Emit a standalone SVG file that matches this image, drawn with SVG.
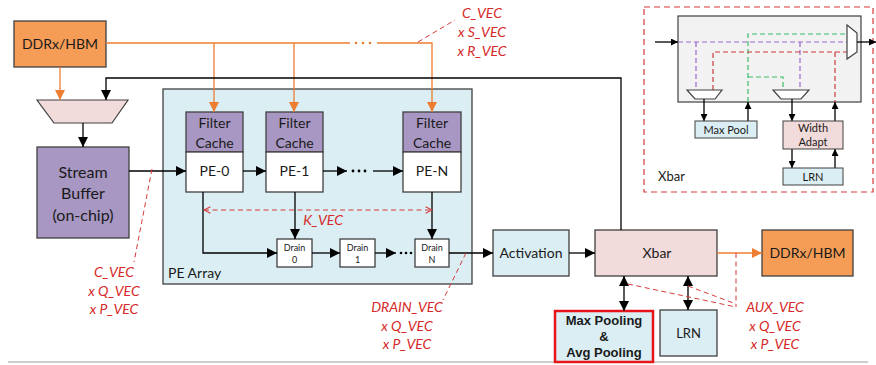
<svg xmlns="http://www.w3.org/2000/svg" width="876" height="365" viewBox="0 0 876 365">
<defs>
<marker id="ab" viewBox="0 0 10 10" refX="10" refY="5" markerWidth="10" markerHeight="10" markerUnits="userSpaceOnUse" orient="auto-start-reverse"><path d="M0,0 L10,5 L0,10 Z" fill="#000"/></marker>
<marker id="ao" viewBox="0 0 10 10" refX="10" refY="5" markerWidth="10" markerHeight="10" markerUnits="userSpaceOnUse" orient="auto-start-reverse"><path d="M0,0 L10,5 L0,10 Z" fill="#ED7D31"/></marker>
<marker id="ar" viewBox="0 0 10 10" refX="9" refY="5" markerWidth="8" markerHeight="8" markerUnits="userSpaceOnUse" orient="auto-start-reverse"><path d="M1,1 L9,5 L1,9" fill="none" stroke="#D63A3A" stroke-width="1.3"/></marker>
<marker id="as" viewBox="0 0 10 10" refX="10" refY="5" markerWidth="7" markerHeight="7" markerUnits="userSpaceOnUse" orient="auto-start-reverse"><path d="M0,0 L10,5 L0,10 Z" fill="#000"/></marker>
</defs>
<style>
.bx{stroke:#404040;stroke-width:1.3}
.or{fill:#F59D56}
.pu{fill:#A897C2}
.bl{fill:#DAEEF3}
.pk{fill:#F2DCDB}
.wh{fill:#fff}
.t{font-family:Lato,"Liberation Sans",sans-serif;fill:#1a1a1a;text-anchor:middle}
.rl{font-family:Lato,"Liberation Sans",sans-serif;font-style:italic;fill:#D62A2A;font-size:14px;text-anchor:middle}
.ln{fill:none;stroke:#000;stroke-width:1.3}
.ol{fill:none;stroke:#ED7D31;stroke-width:1.3}
.rd{fill:none;stroke:#D63A3A;stroke-width:1;stroke-dasharray:5,3.5}
.pd{fill:none;stroke:#9B66CC;stroke-width:1.2;stroke-dasharray:5,3}
.gd{fill:none;stroke:#3CBB6A;stroke-width:1.2;stroke-dasharray:5,3}
.xd{fill:none;stroke:#CC3B3B;stroke-width:1.2;stroke-dasharray:5,3}
</style>
<rect width="876" height="365" fill="#fff"/>
<line x1="8" y1="362" x2="868" y2="362" stroke="#bdbdbd" stroke-width="1.5"/>

<g id="pe-array"><rect x="163" y="89" width="309" height="195" class="bx bl"/><text x="168" y="278" class="t" style="text-anchor:start" font-size="14">PE Array</text></g>

<g id="ddr-top"><rect x="14" y="21" width="92" height="46" class="bx or"/><text x="60" y="49" class="t" font-size="14">DDRx/HBM</text></g>
<g id="mux-top"><path d="M37,100 L128,100 L112,123 L54,123 Z" fill="#F2DCDB" stroke="#404040" stroke-width="1.2"/></g>
<g id="stream-buffer"><rect x="37" y="147" width="92" height="91" class="bx pu"/><text class="t" font-size="16"><tspan x="83" y="178">Stream</tspan><tspan x="83" y="199">Buffer</tspan><tspan x="83" y="221">(on-chip)</tspan></text></g>

<g id="pe0"><rect x="186" y="112" width="57" height="40" class="bx pu"/><rect x="186" y="152" width="57" height="40" class="bx wh"/><text class="t" font-size="14"><tspan x="214.5" y="128">Filter</tspan><tspan x="214.5" y="148">Cache</tspan><tspan x="214.5" y="176">PE-0</tspan></text></g>
<g id="pe1"><rect x="266" y="112" width="57" height="40" class="bx pu"/><rect x="266" y="152" width="57" height="40" class="bx wh"/><text class="t" font-size="14"><tspan x="294.5" y="128">Filter</tspan><tspan x="294.5" y="148">Cache</tspan><tspan x="294.5" y="176">PE-1</tspan></text></g>
<g id="pen"><rect x="403" y="112" width="58" height="40" class="bx pu"/><rect x="403" y="152" width="58" height="40" class="bx wh"/><text class="t" font-size="14"><tspan x="432" y="128">Filter</tspan><tspan x="432" y="148">Cache</tspan><tspan x="432" y="176">PE-N</tspan></text></g>

<g id="drain0"><rect x="277" y="239" width="35" height="28" class="bx wh"/><text class="t" font-size="9"><tspan x="294.5" y="251">Drain</tspan><tspan x="294.5" y="263">0</tspan></text></g>
<g id="drain1"><rect x="340" y="239" width="35" height="28" class="bx wh"/><text class="t" font-size="9"><tspan x="357.5" y="251">Drain</tspan><tspan x="357.5" y="263">1</tspan></text></g>
<g id="drainn"><rect x="415" y="239" width="34" height="28" class="bx wh"/><text class="t" font-size="9"><tspan x="432" y="251">Drain</tspan><tspan x="432" y="263">N</tspan></text></g>

<g id="activation"><rect x="493" y="230" width="76" height="46" class="bx bl"/><text x="531" y="258" class="t" font-size="14">Activation</text></g>
<g id="xbar"><rect x="595" y="230" width="122" height="46" class="bx pk"/><text x="657" y="258" class="t" font-size="14">Xbar</text></g>
<g id="ddr-out"><rect x="762" y="230" width="91" height="46" class="bx or"/><text x="807.5" y="258" class="t" font-size="14">DDRx/HBM</text></g>
<g id="pooling"><rect x="555" y="311" width="98" height="51" fill="#DAEEF3" stroke="#E8141C" stroke-width="2.5"/><text class="t" font-size="13" font-weight="bold" style="font-family:'Liberation Sans',Arial,sans-serif"><tspan x="604" y="325">Max Pooling</tspan><tspan x="604" y="341">&amp;</tspan><tspan x="604" y="357">Avg Pooling</tspan></text></g>
<g id="lrn"><rect x="660" y="310" width="57" height="46" class="bx bl"/><text x="688.5" y="338" class="t" font-size="13">LRN</text></g>

<g id="connectors">
<line x1="60" y1="67" x2="60" y2="100" class="ol" marker-end="url(#ao)"/>
<path d="M106,43 H350 M377,43 H432 V112" class="ol" marker-end="url(#ao)"/>
<circle cx="356" cy="43" r="1.3" fill="#ED7D31"/><circle cx="363" cy="43" r="1.3" fill="#ED7D31"/><circle cx="370" cy="43" r="1.3" fill="#ED7D31"/>
<line x1="214" y1="43" x2="214" y2="112" class="ol" marker-end="url(#ao)"/>
<line x1="294" y1="43" x2="294" y2="112" class="ol" marker-end="url(#ao)"/>
<path d="M621,230 V78 H106 V100" class="ln" marker-end="url(#ab)"/>
<line x1="83" y1="123" x2="83" y2="147" class="ln" marker-end="url(#ab)"/>
<line x1="129" y1="171" x2="186" y2="171" class="ln" marker-end="url(#ab)"/>
<line x1="243" y1="171" x2="266" y2="171" class="ln" marker-end="url(#ab)"/>
<line x1="323" y1="171" x2="347" y2="171" class="ln" marker-end="url(#ab)"/>
<circle cx="353" cy="171" r="1.4"/><circle cx="359" cy="171" r="1.4"/><circle cx="365" cy="171" r="1.4"/>
<line x1="373" y1="171" x2="403" y2="171" class="ln" marker-end="url(#ab)"/>
<path d="M203,192 V253 H277" class="ln" marker-end="url(#ab)"/>
<line x1="295" y1="192" x2="295" y2="239" class="ln" marker-end="url(#ab)"/>
<line x1="432" y1="192" x2="432" y2="239" class="ln" marker-end="url(#ab)"/>
<line x1="312" y1="253" x2="340" y2="253" class="ln" marker-end="url(#ab)"/>
<line x1="375" y1="253" x2="396" y2="253" class="ln" marker-end="url(#ab)"/>
<circle cx="401" cy="253" r="1.3"/><circle cx="406" cy="253" r="1.3"/><circle cx="411" cy="253" r="1.3"/>
<line x1="449" y1="253" x2="493" y2="253" class="ln" marker-end="url(#ab)"/>
<line x1="569" y1="253" x2="595" y2="253" class="ln" marker-end="url(#ab)"/>
<line x1="717" y1="253" x2="762" y2="253" class="ol" marker-end="url(#ao)"/>
<line x1="624" y1="276" x2="624" y2="311" class="ln" marker-start="url(#ab)" marker-end="url(#ab)"/>
<line x1="688" y1="276" x2="688" y2="310" class="ln" marker-start="url(#ab)" marker-end="url(#ab)"/>
<line x1="204" y1="210" x2="432" y2="210" class="rd" marker-start="url(#ar)" marker-end="url(#ar)"/>
<line x1="418" y1="42" x2="455" y2="20" class="rd"/>
<line x1="152" y1="169" x2="134" y2="262" class="rd"/>
<line x1="466" y1="253" x2="443" y2="300" class="rd"/>
<path d="M736,253 V307 M628,284 L736,307 M688,286 L736,304" class="rd"/>
</g>

<g id="labels">
<text class="rl"><tspan x="482" y="18">C_VEC</tspan><tspan x="482" y="37">x S_VEC</tspan><tspan x="482" y="56">x R_VEC</tspan></text>
<text x="323" y="225" class="rl">K_VEC</text>
<text class="rl"><tspan x="114" y="277">C_VEC</tspan><tspan x="114" y="296">x Q_VEC</tspan><tspan x="114" y="314">x P_VEC</tspan></text>
<text class="rl"><tspan x="407" y="312">DRAIN_VEC</tspan><tspan x="407" y="331">x Q_VEC</tspan><tspan x="407" y="349">x P_VEC</tspan></text>
<text class="rl"><tspan x="775" y="312">AUX_VEC</tspan><tspan x="775" y="331">x Q_VEC</tspan><tspan x="775" y="349">x P_VEC</tspan></text>
</g>

<g id="xbar-detail">
<rect x="644" y="7" width="229" height="185" fill="none" stroke="#D63A3A" stroke-width="1.2" stroke-dasharray="6,4"/>
<rect x="678" y="16" width="183" height="86" fill="#F2F2F2" stroke="#404040" stroke-width="1.2"/>
<text x="658" y="181" class="t" font-size="13" style="text-anchor:start">Xbar</text>
<path d="M748,102 V34 H847 M748,77 H783 V90" class="gd"/>
<path d="M678,42 H847 M696,42 V90 M800,42 V90" class="pd"/>
<path d="M713,90 V52 H847 M835,52 V102" class="xd"/>
<path d="M687,90 L722,90 L715,99 L695,99 Z" fill="#fff" stroke="#404040" stroke-width="1.2"/>
<path d="M773,90 L809,90 L801,99 L781,99 Z" fill="#fff" stroke="#404040" stroke-width="1.2"/>
<path d="M847,25 L857,33 L857,52 L847,59 Z" fill="#fff" stroke="#404040" stroke-width="1.2"/>
<line x1="655" y1="42" x2="678" y2="42" class="ln" marker-end="url(#as)"/>
<line x1="857" y1="42" x2="876" y2="42" class="ln" marker-end="url(#as)"/>
<line x1="704" y1="99" x2="704" y2="121" class="ln" marker-end="url(#as)"/>
<line x1="748" y1="121" x2="748" y2="102" class="ln" marker-end="url(#as)"/>
<line x1="792" y1="99" x2="792" y2="121" class="ln" marker-end="url(#as)"/>
<line x1="835" y1="121" x2="835" y2="102" class="ln" marker-end="url(#as)"/>
<line x1="792" y1="149" x2="792" y2="168" class="ln" marker-end="url(#as)"/>
<line x1="835" y1="168" x2="835" y2="149" class="ln" marker-end="url(#as)"/>
<g id="maxpool"><rect x="695" y="121" width="62" height="17" fill="#DAEEF3" stroke="#404040" stroke-width="1"/><text x="726" y="134" class="t" font-size="11">Max Pool</text></g>
<g id="width-adapt"><rect x="783" y="121" width="60" height="28" fill="#F2DCDB" stroke="#404040" stroke-width="1"/><text class="t" font-size="11"><tspan x="813" y="132">Width</tspan><tspan x="813" y="146">Adapt</tspan></text></g>
<g id="lrn-small"><rect x="783" y="168" width="60" height="17" fill="#DAEEF3" stroke="#404040" stroke-width="1"/><text x="813" y="181" class="t" font-size="11">LRN</text></g>
</g>
</svg>
